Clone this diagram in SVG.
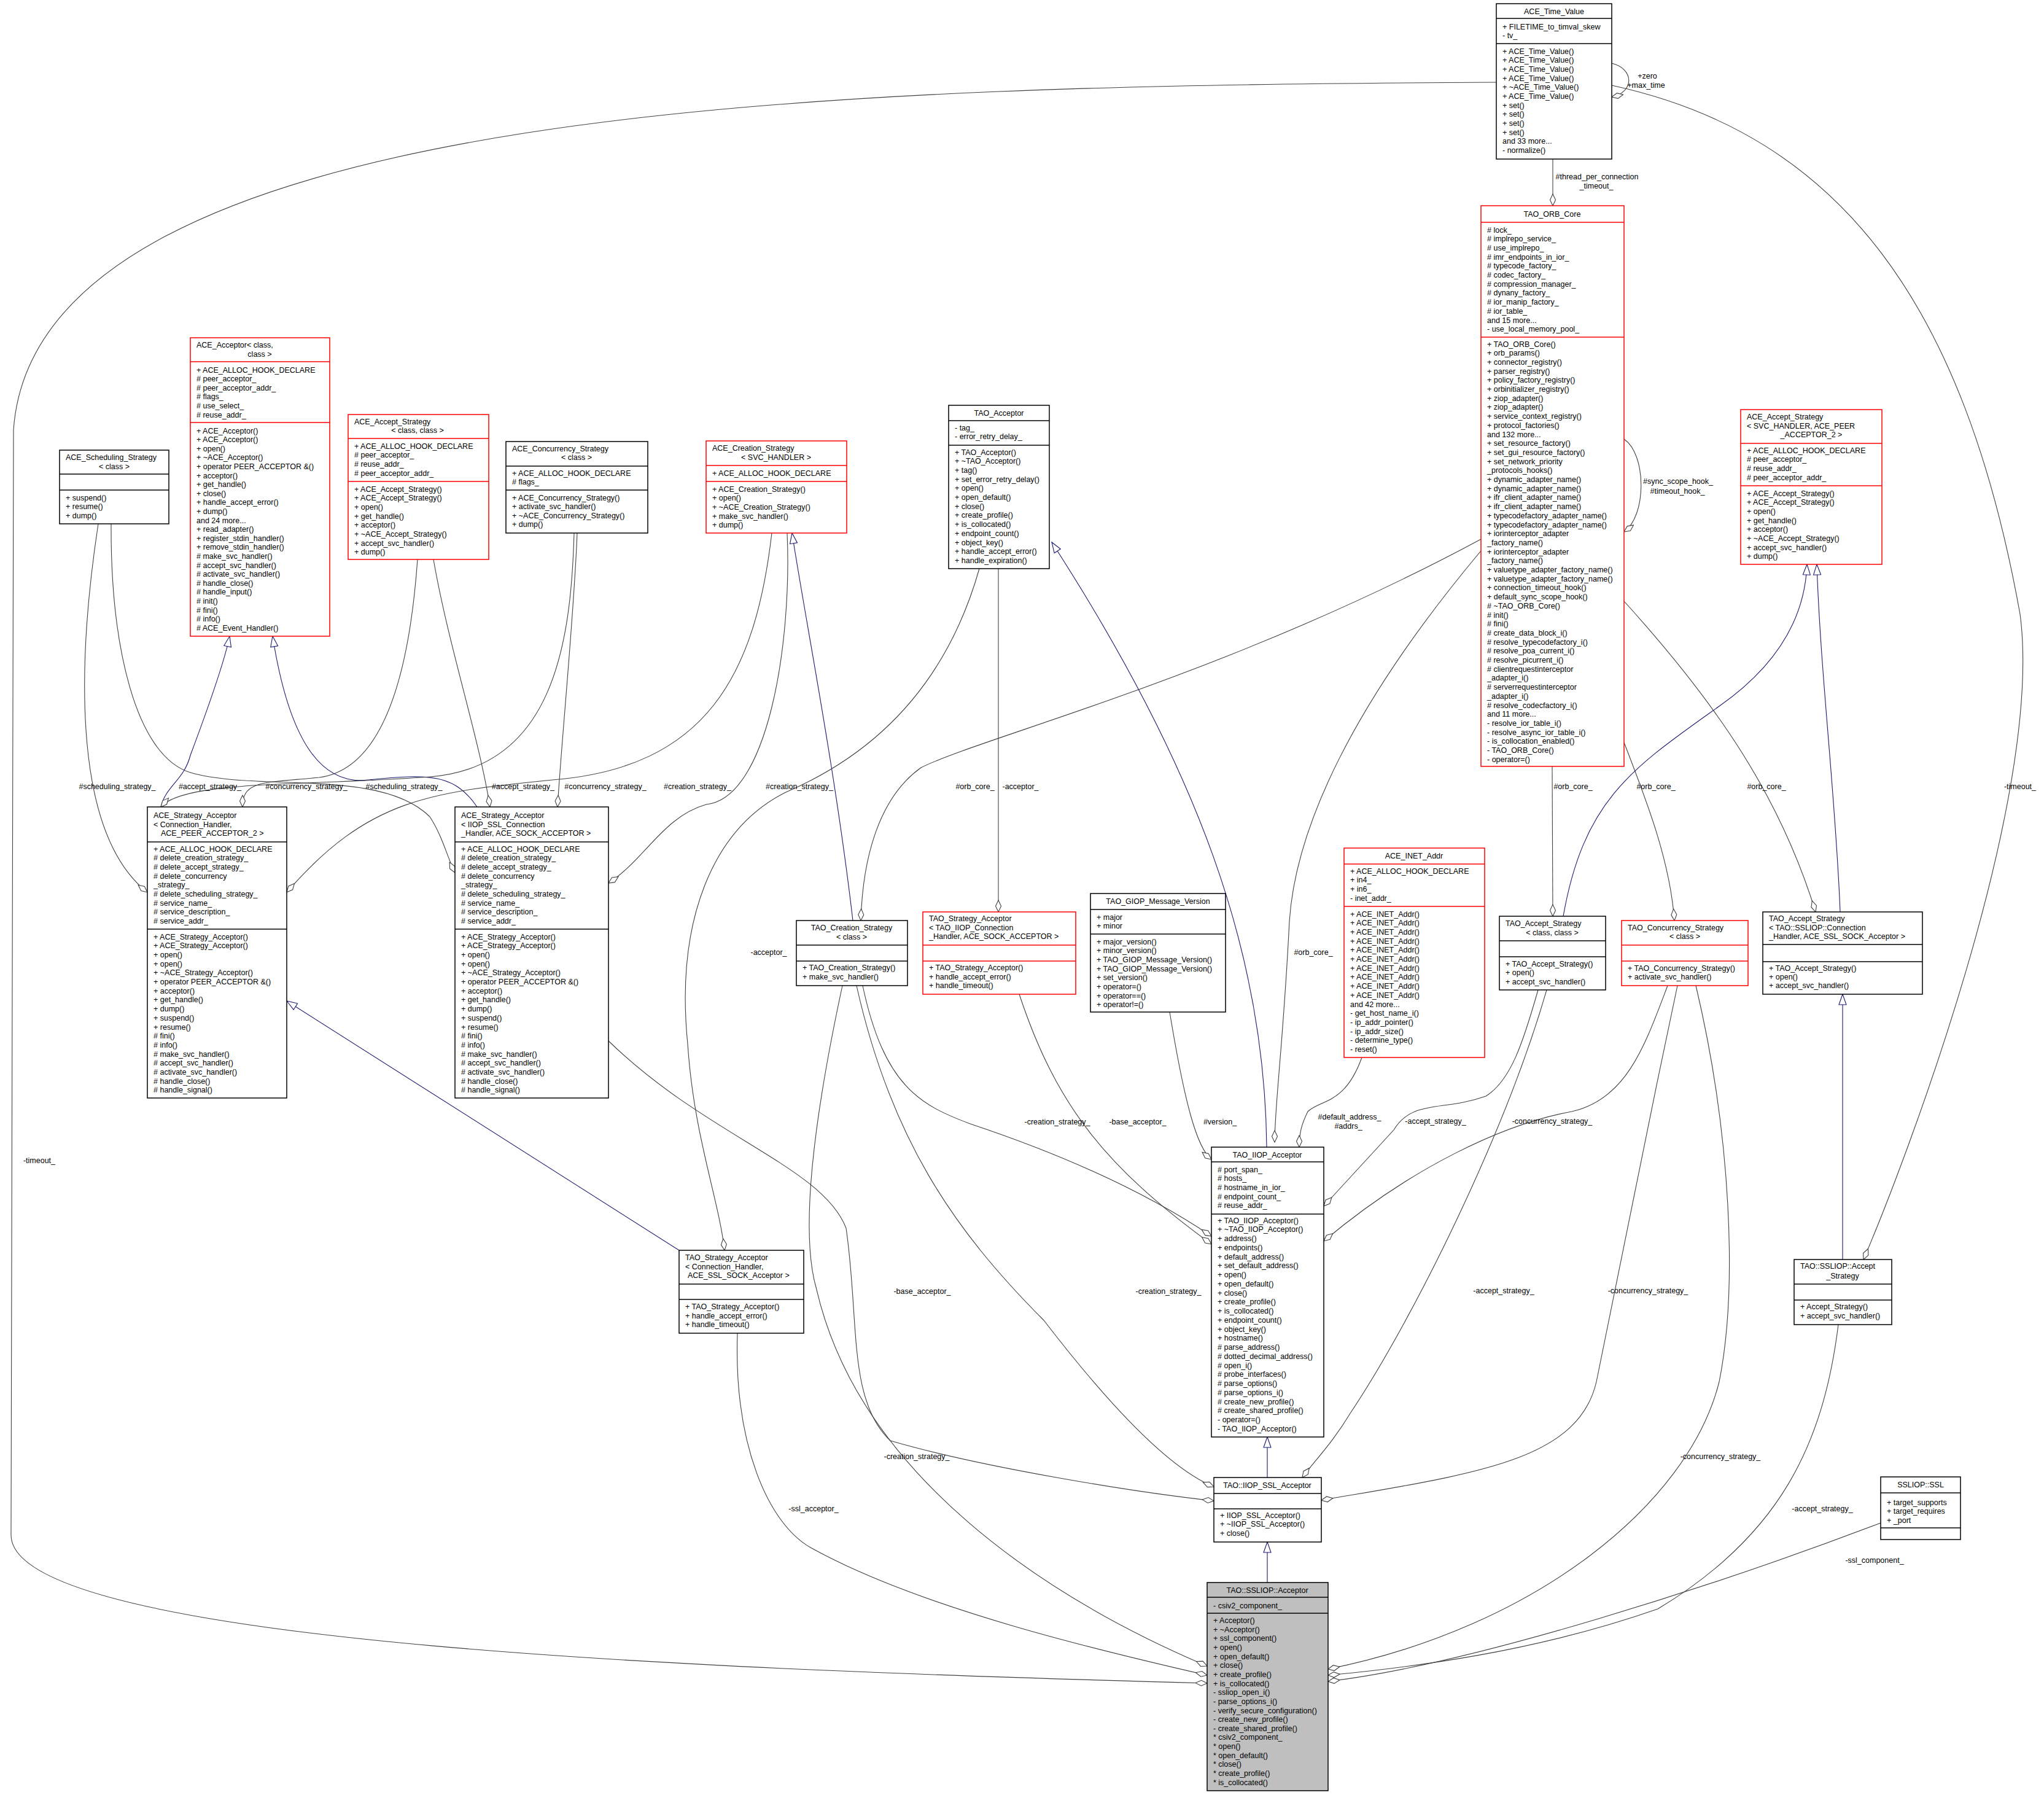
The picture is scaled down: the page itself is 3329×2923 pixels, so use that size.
<svg xmlns="http://www.w3.org/2000/svg" width="3329" height="2923" viewBox="0 0 3329 2923">
<style>
text{font-family:"Liberation Sans",Arial,sans-serif;font-size:12.5px;fill:#000}
.c{text-anchor:middle}
.b{fill:#fff;stroke:#000;stroke-width:1.5}
.r{fill:#fff;stroke:#ff0000;stroke-width:1.5}
.g{fill:#bfbfbf;stroke:#000;stroke-width:1.5}
.s{stroke:#000;stroke-width:1.5}
.sr{stroke:#ff0000;stroke-width:1.5}
.e{fill:none;stroke:#404040;stroke-width:1.1;marker-end:url(#dia)}
.i{fill:none;stroke:#191970;stroke-width:1.1;marker-end:url(#tri)}
</style>
<defs>
<marker id="dia" markerWidth="22" markerHeight="12" refX="20" refY="6" orient="auto" markerUnits="userSpaceOnUse"><path d="M1,6 L10.5,1.5 L20,6 L10.5,10.5 Z" fill="#fff" stroke="#404040" stroke-width="1.1"/></marker>
<marker id="tri" markerWidth="20" markerHeight="16" refX="18" refY="8" orient="auto" markerUnits="userSpaceOnUse"><path d="M1,2 L18,8 L1,14 Z" fill="#fff" stroke="#191970" stroke-width="1.1"/></marker>
</defs>
<rect width="3329" height="2923" fill="#fff"/>

<g id="connectors">
<path class="e" d="M2529,259 L2529,335"/>
<path class="e" d="M2625,103 C2662,112 2662,150 2625,158"/>
<path class="e" d="M2645,715 C2682,740 2682,840 2645,866"/>
<path class="e" d="M2437,134 C1400,140 60,160 22,700 L18,2500 C20,2680 1200,2720 1966,2741"/>
<path class="e" d="M2625,139 C3000,220 3200,500 3290,1000 C3330,1300 3100,1900 3035,2051"/>
<path class="e" d="M160,853 C130,1050 110,1350 240,1453"/>
<path class="e" d="M181,853 C180,1050 220,1230 310,1258 C420,1290 620,1250 700,1330 C720,1360 730,1400 741,1421"/>
<path class="i" d="M262,1314 C270,1280 300,1270 310,1230 C340,1150 365,1080 374,1036"/>
<path class="i" d="M777,1314 C740,1260 700,1260 600,1270 C520,1280 470,1200 444,1036"/>
<path class="e" d="M680,911 C670,1050 640,1250 520,1266 C430,1275 395,1270 395,1314"/>
<path class="e" d="M706,911 C730,1050 780,1200 798,1314"/>
<path class="e" d="M940,868 C935,1000 915,1200 908,1314"/>
<path class="e" d="M935,868 C930,1050 900,1250 700,1265 C500,1280 300,1270 262,1314"/>
<path class="e" d="M1257,868 C1230,1100 1150,1250 900,1270 C700,1290 600,1300 467,1453"/>
<path class="e" d="M1282,868 C1290,1050 1250,1300 1150,1310 C1080,1330 1050,1400 991,1438"/>
<path class="i" d="M1389,1499 C1360,1250 1310,1000 1290,868"/>
<path class="e" d="M2412,878 C2000,1100 1600,1200 1500,1250 C1430,1300 1405,1400 1402,1499"/>
<path class="e" d="M1626,926 L1626,1485"/>
<path class="e" d="M1595,926 C1540,1120 1420,1230 1280,1290 C1160,1350 1100,1500 1120,1700 C1130,1850 1170,1950 1180,2036"/>
<path class="i" d="M1106,2036 L467,1630"/>
<path class="i" d="M2063,1868 C2060,1550 1950,1250 1713,883"/>
<path class="e" d="M2412,897 C2200,1150 2110,1350 2100,1500 C2090,1700 2076,1800 2076,1860"/>
<path class="e" d="M2218,1722 C2190,1800 2150,1790 2130,1810 C2120,1830 2116,1845 2116,1868"/>
<path class="e" d="M1905,1648 C1930,1800 1950,1870 1973,1888"/>
<path class="e" d="M1405,1605 C1440,1770 1500,1800 1580,1830 C1700,1870 1850,1930 1973,2013"/>
<path class="e" d="M1660,1619 C1720,1800 1800,1900 1973,2026"/>
<path class="e" d="M2505,1612 C2480,1700 2460,1760 2420,1785 C2350,1810 2300,1790 2270,1840 L2156,1964"/>
<path class="e" d="M2716,1605 C2680,1700 2650,1790 2560,1810 C2450,1830 2300,1900 2156,2021"/>
<path class="i" d="M2064,2406 L2064,2340"/>
<path class="i" d="M2064,2577 L2064,2511"/>
<path class="e" d="M1395,1605 C1450,1850 1550,2000 1700,2150 C1800,2280 1900,2390 1977,2421"/>
<path class="e" d="M991,1695 C1150,1850 1340,1900 1378,2000 C1400,2150 1380,2280 1450,2346 C1600,2390 1850,2430 1977,2444"/>
<path class="e" d="M2519,1612 C2450,1850 2300,2150 2200,2300 C2170,2350 2140,2380 2121,2406"/>
<path class="e" d="M2732,1605 C2680,1850 2620,2150 2600,2250 C2570,2380 2400,2400 2152,2443"/>
<path class="e" d="M2762,1605 C2820,1850 2830,2100 2800,2250 C2750,2450 2500,2650 2163,2718"/>
<path class="e" d="M2994,2157 C2970,2350 2900,2500 2700,2620 C2500,2690 2300,2715 2163,2728"/>
<path class="e" d="M3063,2480 C2800,2580 2400,2710 2163,2738"/>
<path class="e" d="M1201,2171 C1195,2350 1250,2480 1320,2520 C1500,2620 1800,2690 1966,2728"/>
<path class="e" d="M1372,1605 C1330,1800 1300,2000 1330,2100 C1400,2400 1700,2600 1966,2713"/>
<path class="e" d="M2528,1248 L2529,1492"/>
<path class="e" d="M2645,1209 C2680,1300 2720,1400 2727,1499"/>
<path class="e" d="M2645,979 C2800,1150 2900,1300 2957,1485"/>
<path class="i" d="M2546,1492 C2580,1300 2660,1250 2800,1150 C2900,1080 2940,1000 2943,919"/>
<path class="i" d="M2997,1485 C2990,1300 2965,1100 2959,919"/>
<path class="i" d="M3001,2051 L3001,1619"/>
<g class="lbl">
<text class="c" x="2601" y="292">#thread_per_connection</text>
<text class="c" x="2600" y="307">_timeout_</text>
<text class="c" x="2683" y="128">+zero</text>
<text class="c" x="2681" y="143">+max_time</text>
<text class="c" x="2733" y="788">#sync_scope_hook_</text>
<text class="c" x="2732" y="804">#timeout_hook_</text>
<text class="c" x="64" y="1894">-timeout_</text>
<text class="c" x="3290" y="1285">-timeout_</text>
<text class="c" x="191" y="1285">#scheduling_strategy_</text>
<text class="c" x="342" y="1285">#accept_strategy_</text>
<text class="c" x="499" y="1285">#concurrency_strategy_</text>
<text class="c" x="658" y="1285">#scheduling_strategy_</text>
<text class="c" x="852" y="1285">#accept_strategy_</text>
<text class="c" x="986" y="1285">#concurrency_strategy_</text>
<text class="c" x="1136" y="1285">#creation_strategy_</text>
<text class="c" x="1302" y="1285">#creation_strategy_</text>
<text class="c" x="1588" y="1285">#orb_core_</text>
<text class="c" x="1662" y="1285">-acceptor_</text>
<text class="c" x="1252" y="1555">-acceptor_</text>
<text class="c" x="2139" y="1555">#orb_core_</text>
<text class="c" x="2562" y="1285">#orb_core_</text>
<text class="c" x="2697" y="1285">#orb_core_</text>
<text class="c" x="2877" y="1285">#orb_core_</text>
<text class="c" x="1722" y="1831">-creation_strategy_</text>
<text class="c" x="1853" y="1831">-base_acceptor_</text>
<text class="c" x="1987" y="1831">#version_</text>
<text class="c" x="2198" y="1823">#default_address_</text>
<text class="c" x="2196" y="1838">#addrs_</text>
<text class="c" x="2338" y="1830">-accept_strategy_</text>
<text class="c" x="2528" y="1830">-concurrency_strategy_</text>
<text class="c" x="1502" y="2107">-base_acceptor_</text>
<text class="c" x="1903" y="2107">-creation_strategy_</text>
<text class="c" x="2449" y="2106">-accept_strategy_</text>
<text class="c" x="2684" y="2106">-concurrency_strategy_</text>
<text class="c" x="1493" y="2376">-creation_strategy_</text>
<text class="c" x="1325" y="2461">-ssl_acceptor_</text>
<text class="c" x="2802" y="2376">-concurrency_strategy_</text>
<text class="c" x="2968" y="2461">-accept_strategy_</text>
<text class="c" x="3053" y="2545">-ssl_component_</text>
</g>
</g>

<g id="ACE_Time_Value">
<rect class="b" x="2437" y="6" width="188" height="253"/>
<line class="s" x1="2437" y1="30" x2="2625" y2="30"/><line class="s" x1="2437" y1="71" x2="2625" y2="71"/>
<text class="c" x="2531" y="23">ACE_Time_Value</text>
<text x="2447" y="47.5"><tspan x="2447">+ FILETIME_to_timval_skew</tspan><tspan x="2447" dy="14">- tv_</tspan></text>
<text x="2447" y="87.5"><tspan x="2447">+ ACE_Time_Value()</tspan><tspan x="2447" dy="14.7">+ ACE_Time_Value()</tspan><tspan x="2447" dy="14.7">+ ACE_Time_Value()</tspan><tspan x="2447" dy="14.7">+ ACE_Time_Value()</tspan><tspan x="2447" dy="14.7">+ ~ACE_Time_Value()</tspan><tspan x="2447" dy="14.7">+ ACE_Time_Value()</tspan><tspan x="2447" dy="14.7">+ set()</tspan><tspan x="2447" dy="14.7">+ set()</tspan><tspan x="2447" dy="14.7">+ set()</tspan><tspan x="2447" dy="14.7">+ set()</tspan><tspan x="2447" dy="14.7">and 33 more...</tspan><tspan x="2447" dy="14.7">- normalize()</tspan></text>
</g>

<g id="TAO_ORB_Core">
<rect class="r" x="2412" y="335" width="233" height="913"/>
<line class="sr" x1="2412" y1="362" x2="2645" y2="362"/><line class="sr" x1="2412" y1="549" x2="2645" y2="549"/>
<text class="c" x="2528" y="353">TAO_ORB_Core</text>
<text x="2422" y="378.5"><tspan x="2422"># lock_</tspan><tspan x="2422" dy="14.7"># implrepo_service_</tspan><tspan x="2422" dy="14.7"># use_implrepo_</tspan><tspan x="2422" dy="14.7"># imr_endpoints_in_ior_</tspan><tspan x="2422" dy="14.7"># typecode_factory_</tspan><tspan x="2422" dy="14.7"># codec_factory_</tspan><tspan x="2422" dy="14.7"># compression_manager_</tspan><tspan x="2422" dy="14.7"># dynany_factory_</tspan><tspan x="2422" dy="14.7"># ior_manip_factory_</tspan><tspan x="2422" dy="14.7"># ior_table_</tspan><tspan x="2422" dy="14.7">and 15 more...</tspan><tspan x="2422" dy="14.7">- use_local_memory_pool_</tspan></text>
<text x="2422" y="564.5"><tspan x="2422">+ TAO_ORB_Core()</tspan><tspan x="2422" dy="14.7">+ orb_params()</tspan><tspan x="2422" dy="14.7">+ connector_registry()</tspan><tspan x="2422" dy="14.7">+ parser_registry()</tspan><tspan x="2422" dy="14.7">+ policy_factory_registry()</tspan><tspan x="2422" dy="14.7">+ orbinitializer_registry()</tspan><tspan x="2422" dy="14.7">+ ziop_adapter()</tspan><tspan x="2422" dy="14.7">+ ziop_adapter()</tspan><tspan x="2422" dy="14.7">+ service_context_registry()</tspan><tspan x="2422" dy="14.7">+ protocol_factories()</tspan><tspan x="2422" dy="14.7">and 132 more...</tspan><tspan x="2422" dy="14.7">+ set_resource_factory()</tspan><tspan x="2422" dy="14.7">+ set_gui_resource_factory()</tspan><tspan x="2422" dy="14.7">+ set_network_priority</tspan><tspan x="2422" dy="14.7">_protocols_hooks()</tspan><tspan x="2422" dy="14.7">+ dynamic_adapter_name()</tspan><tspan x="2422" dy="14.7">+ dynamic_adapter_name()</tspan><tspan x="2422" dy="14.7">+ ifr_client_adapter_name()</tspan><tspan x="2422" dy="14.7">+ ifr_client_adapter_name()</tspan><tspan x="2422" dy="14.7">+ typecodefactory_adapter_name()</tspan><tspan x="2422" dy="14.7">+ typecodefactory_adapter_name()</tspan><tspan x="2422" dy="14.7">+ iorinterceptor_adapter</tspan><tspan x="2422" dy="14.7">_factory_name()</tspan><tspan x="2422" dy="14.7">+ iorinterceptor_adapter</tspan><tspan x="2422" dy="14.7">_factory_name()</tspan><tspan x="2422" dy="14.7">+ valuetype_adapter_factory_name()</tspan><tspan x="2422" dy="14.7">+ valuetype_adapter_factory_name()</tspan><tspan x="2422" dy="14.7">+ connection_timeout_hook()</tspan><tspan x="2422" dy="14.7">+ default_sync_scope_hook()</tspan><tspan x="2422" dy="14.7"># ~TAO_ORB_Core()</tspan><tspan x="2422" dy="14.7"># init()</tspan><tspan x="2422" dy="14.7"># fini()</tspan><tspan x="2422" dy="14.7"># create_data_block_i()</tspan><tspan x="2422" dy="14.7"># resolve_typecodefactory_i()</tspan><tspan x="2422" dy="14.7"># resolve_poa_current_i()</tspan><tspan x="2422" dy="14.7"># resolve_picurrent_i()</tspan><tspan x="2422" dy="14.7"># clientrequestinterceptor</tspan><tspan x="2422" dy="14.7">_adapter_i()</tspan><tspan x="2422" dy="14.7"># serverrequestinterceptor</tspan><tspan x="2422" dy="14.7">_adapter_i()</tspan><tspan x="2422" dy="14.7"># resolve_codecfactory_i()</tspan><tspan x="2422" dy="14.7">and 11 more...</tspan><tspan x="2422" dy="14.7">- resolve_ior_table_i()</tspan><tspan x="2422" dy="14.7">- resolve_async_ior_table_i()</tspan><tspan x="2422" dy="14.7">- is_collocation_enabled()</tspan><tspan x="2422" dy="14.7">- TAO_ORB_Core()</tspan><tspan x="2422" dy="14.7">- operator=()</tspan></text>
</g>

<g id="ACE_Acceptor">
<rect class="r" x="310" y="550" width="227" height="486"/>
<line class="sr" x1="310" y1="589" x2="537" y2="589"/><line class="sr" x1="310" y1="688" x2="537" y2="688"/>
<text x="320" y="566">ACE_Acceptor&lt; class,</text>
<text class="c" x="423" y="581">class &gt;</text>
<text x="320" y="606.5"><tspan x="320">+ ACE_ALLOC_HOOK_DECLARE</tspan><tspan x="320" dy="14.6"># peer_acceptor_</tspan><tspan x="320" dy="14.6"># peer_acceptor_addr_</tspan><tspan x="320" dy="14.6"># flags_</tspan><tspan x="320" dy="14.6"># use_select_</tspan><tspan x="320" dy="14.6"># reuse_addr_</tspan></text>
<text x="320" y="705.5"><tspan x="320">+ ACE_Acceptor()</tspan><tspan x="320" dy="14.6">+ ACE_Acceptor()</tspan><tspan x="320" dy="14.6">+ open()</tspan><tspan x="320" dy="14.6">+ ~ACE_Acceptor()</tspan><tspan x="320" dy="14.6">+ operator PEER_ACCEPTOR &amp;()</tspan><tspan x="320" dy="14.6">+ acceptor()</tspan><tspan x="320" dy="14.6">+ get_handle()</tspan><tspan x="320" dy="14.6">+ close()</tspan><tspan x="320" dy="14.6">+ handle_accept_error()</tspan><tspan x="320" dy="14.6">+ dump()</tspan><tspan x="320" dy="14.6">and 24 more...</tspan><tspan x="320" dy="14.6">+ read_adapter()</tspan><tspan x="320" dy="14.6">+ register_stdin_handler()</tspan><tspan x="320" dy="14.6">+ remove_stdin_handler()</tspan><tspan x="320" dy="14.6"># make_svc_handler()</tspan><tspan x="320" dy="14.6"># accept_svc_handler()</tspan><tspan x="320" dy="14.6"># activate_svc_handler()</tspan><tspan x="320" dy="14.6"># handle_close()</tspan><tspan x="320" dy="14.6"># handle_input()</tspan><tspan x="320" dy="14.6"># init()</tspan><tspan x="320" dy="14.6"># fini()</tspan><tspan x="320" dy="14.6"># info()</tspan><tspan x="320" dy="14.6"># ACE_Event_Handler()</tspan></text>
</g>

<g id="ACE_Scheduling_Strategy">
<rect class="b" x="97" y="733" width="178" height="120"/>
<line class="s" x1="97" y1="772" x2="275" y2="772"/><line class="s" x1="97" y1="798" x2="275" y2="798"/>
<text x="107" y="749">ACE_Scheduling_Strategy</text>
<text class="c" x="186" y="764">&lt; class &gt;</text>
<text x="107" y="814.5"><tspan x="107">+ suspend()</tspan><tspan x="107" dy="14.5">+ resume()</tspan><tspan x="107" dy="14.5">+ dump()</tspan></text>
</g>

<g id="ACE_Accept_Strategy_cc">
<rect class="r" x="567" y="675" width="229" height="236"/>
<line class="sr" x1="567" y1="714" x2="796" y2="714"/><line class="sr" x1="567" y1="784" x2="796" y2="784"/>
<text x="577" y="691">ACE_Accept_Strategy</text>
<text class="c" x="680" y="705">&lt; class, class &gt;</text>
<text x="577" y="730.5"><tspan x="577">+ ACE_ALLOC_HOOK_DECLARE</tspan><tspan x="577" dy="14.7"># peer_acceptor_</tspan><tspan x="577" dy="14.7"># reuse_addr_</tspan><tspan x="577" dy="14.7"># peer_acceptor_addr_</tspan></text>
<text x="577" y="800.5"><tspan x="577">+ ACE_Accept_Strategy()</tspan><tspan x="577" dy="14.7">+ ACE_Accept_Strategy()</tspan><tspan x="577" dy="14.7">+ open()</tspan><tspan x="577" dy="14.7">+ get_handle()</tspan><tspan x="577" dy="14.7">+ acceptor()</tspan><tspan x="577" dy="14.7">+ ~ACE_Accept_Strategy()</tspan><tspan x="577" dy="14.7">+ accept_svc_handler()</tspan><tspan x="577" dy="14.7">+ dump()</tspan></text>
</g>

<g id="ACE_Concurrency_Strategy">
<rect class="b" x="824" y="719" width="231" height="149"/>
<line class="s" x1="824" y1="759" x2="1055" y2="759"/><line class="s" x1="824" y1="798" x2="1055" y2="798"/>
<text x="834" y="735">ACE_Concurrency_Strategy</text>
<text class="c" x="939" y="749">&lt; class &gt;</text>
<text x="834" y="774.5"><tspan x="834">+ ACE_ALLOC_HOOK_DECLARE</tspan><tspan x="834" dy="14.5"># flags_</tspan></text>
<text x="834" y="814.5"><tspan x="834">+ ACE_Concurrency_Strategy()</tspan><tspan x="834" dy="14.6">+ activate_svc_handler()</tspan><tspan x="834" dy="14.6">+ ~ACE_Concurrency_Strategy()</tspan><tspan x="834" dy="14.6">+ dump()</tspan></text>
</g>

<g id="ACE_Creation_Strategy">
<rect class="r" x="1150" y="718" width="229" height="150"/>
<line class="sr" x1="1150" y1="758" x2="1379" y2="758"/><line class="sr" x1="1150" y1="784" x2="1379" y2="784"/>
<text x="1160" y="734">ACE_Creation_Strategy</text>
<text class="c" x="1264" y="749">&lt; SVC_HANDLER &gt;</text>
<text x="1160" y="774.5">+ ACE_ALLOC_HOOK_DECLARE</text>
<text x="1160" y="800.5"><tspan x="1160">+ ACE_Creation_Strategy()</tspan><tspan x="1160" dy="14.7">+ open()</tspan><tspan x="1160" dy="14.7">+ ~ACE_Creation_Strategy()</tspan><tspan x="1160" dy="14.7">+ make_svc_handler()</tspan><tspan x="1160" dy="14.7">+ dump()</tspan></text>
</g>

<g id="TAO_Acceptor">
<rect class="b" x="1545" y="660" width="164" height="266"/>
<line class="s" x1="1545" y1="685" x2="1709" y2="685"/><line class="s" x1="1545" y1="725" x2="1709" y2="725"/>
<text class="c" x="1627" y="677">TAO_Acceptor</text>
<text x="1555" y="700.5"><tspan x="1555">- tag_</tspan><tspan x="1555" dy="14.5">- error_retry_delay_</tspan></text>
<text x="1555" y="740.5"><tspan x="1555">+ TAO_Acceptor()</tspan><tspan x="1555" dy="14.7">+ ~TAO_Acceptor()</tspan><tspan x="1555" dy="14.7">+ tag()</tspan><tspan x="1555" dy="14.7">+ set_error_retry_delay()</tspan><tspan x="1555" dy="14.7">+ open()</tspan><tspan x="1555" dy="14.7">+ open_default()</tspan><tspan x="1555" dy="14.7">+ close()</tspan><tspan x="1555" dy="14.7">+ create_profile()</tspan><tspan x="1555" dy="14.7">+ is_collocated()</tspan><tspan x="1555" dy="14.7">+ endpoint_count()</tspan><tspan x="1555" dy="14.7">+ object_key()</tspan><tspan x="1555" dy="14.7">+ handle_accept_error()</tspan><tspan x="1555" dy="14.7">+ handle_expiration()</tspan></text>
</g>

<g id="ACE_Strategy_Acceptor_CH">
<rect class="b" x="240" y="1314" width="227" height="474"/>
<line class="s" x1="240" y1="1371" x2="467" y2="1371"/><line class="s" x1="240" y1="1513" x2="467" y2="1513"/>
<text x="250" y="1332"><tspan x="250">ACE_Strategy_Acceptor</tspan><tspan x="250" dy="14.5">&lt; Connection_Handler,</tspan><tspan x="262" dy="14.5">ACE_PEER_ACCEPTOR_2 &gt;</tspan></text>
<text x="250" y="1386.5"><tspan x="250">+ ACE_ALLOC_HOOK_DECLARE</tspan><tspan x="250" dy="14.7"># delete_creation_strategy_</tspan><tspan x="250" dy="14.7"># delete_accept_strategy_</tspan><tspan x="250" dy="14.7"># delete_concurrency</tspan><tspan x="250" dy="14.7">_strategy_</tspan><tspan x="250" dy="14.7"># delete_scheduling_strategy_</tspan><tspan x="250" dy="14.7"># service_name_</tspan><tspan x="250" dy="14.7"># service_description_</tspan><tspan x="250" dy="14.7"># service_addr_</tspan></text>
<text x="250" y="1529.5"><tspan x="250">+ ACE_Strategy_Acceptor()</tspan><tspan x="250" dy="14.7">+ ACE_Strategy_Acceptor()</tspan><tspan x="250" dy="14.7">+ open()</tspan><tspan x="250" dy="14.7">+ open()</tspan><tspan x="250" dy="14.7">+ ~ACE_Strategy_Acceptor()</tspan><tspan x="250" dy="14.7">+ operator PEER_ACCEPTOR &amp;()</tspan><tspan x="250" dy="14.7">+ acceptor()</tspan><tspan x="250" dy="14.7">+ get_handle()</tspan><tspan x="250" dy="14.7">+ dump()</tspan><tspan x="250" dy="14.7">+ suspend()</tspan><tspan x="250" dy="14.7">+ resume()</tspan><tspan x="250" dy="14.7"># fini()</tspan><tspan x="250" dy="14.7"># info()</tspan><tspan x="250" dy="14.7"># make_svc_handler()</tspan><tspan x="250" dy="14.7"># accept_svc_handler()</tspan><tspan x="250" dy="14.7"># activate_svc_handler()</tspan><tspan x="250" dy="14.7"># handle_close()</tspan><tspan x="250" dy="14.7"># handle_signal()</tspan></text>
</g>

<g id="ACE_Strategy_Acceptor_IIOP_SSL">
<rect class="b" x="741" y="1314" width="250" height="474"/>
<line class="s" x1="741" y1="1371" x2="991" y2="1371"/><line class="s" x1="741" y1="1513" x2="991" y2="1513"/>
<text x="751" y="1332"><tspan x="751">ACE_Strategy_Acceptor</tspan><tspan x="751" dy="14.5">&lt; IIOP_SSL_Connection</tspan><tspan x="751" dy="14.5">_Handler, ACE_SOCK_ACCEPTOR &gt;</tspan></text>
<text x="751" y="1386.5"><tspan x="751">+ ACE_ALLOC_HOOK_DECLARE</tspan><tspan x="751" dy="14.7"># delete_creation_strategy_</tspan><tspan x="751" dy="14.7"># delete_accept_strategy_</tspan><tspan x="751" dy="14.7"># delete_concurrency</tspan><tspan x="751" dy="14.7">_strategy_</tspan><tspan x="751" dy="14.7"># delete_scheduling_strategy_</tspan><tspan x="751" dy="14.7"># service_name_</tspan><tspan x="751" dy="14.7"># service_description_</tspan><tspan x="751" dy="14.7"># service_addr_</tspan></text>
<text x="751" y="1529.5"><tspan x="751">+ ACE_Strategy_Acceptor()</tspan><tspan x="751" dy="14.7">+ ACE_Strategy_Acceptor()</tspan><tspan x="751" dy="14.7">+ open()</tspan><tspan x="751" dy="14.7">+ open()</tspan><tspan x="751" dy="14.7">+ ~ACE_Strategy_Acceptor()</tspan><tspan x="751" dy="14.7">+ operator PEER_ACCEPTOR &amp;()</tspan><tspan x="751" dy="14.7">+ acceptor()</tspan><tspan x="751" dy="14.7">+ get_handle()</tspan><tspan x="751" dy="14.7">+ dump()</tspan><tspan x="751" dy="14.7">+ suspend()</tspan><tspan x="751" dy="14.7">+ resume()</tspan><tspan x="751" dy="14.7"># fini()</tspan><tspan x="751" dy="14.7"># info()</tspan><tspan x="751" dy="14.7"># make_svc_handler()</tspan><tspan x="751" dy="14.7"># accept_svc_handler()</tspan><tspan x="751" dy="14.7"># activate_svc_handler()</tspan><tspan x="751" dy="14.7"># handle_close()</tspan><tspan x="751" dy="14.7"># handle_signal()</tspan></text>
</g>

<g id="TAO_Creation_Strategy">
<rect class="b" x="1297" y="1499" width="181" height="106"/>
<line class="s" x1="1297" y1="1539" x2="1478" y2="1539"/><line class="s" x1="1297" y1="1565" x2="1478" y2="1565"/>
<text class="c" x="1387" y="1515">TAO_Creation_Strategy</text>
<text class="c" x="1387" y="1530">&lt; class &gt;</text>
<text x="1307" y="1580"><tspan x="1307">+ TAO_Creation_Strategy()</tspan><tspan x="1307" dy="14.7">+ make_svc_handler()</tspan></text>
</g>

<g id="TAO_Strategy_Acceptor_IIOP">
<rect class="r" x="1503" y="1485" width="249" height="134"/>
<line class="sr" x1="1503" y1="1539" x2="1752" y2="1539"/><line class="sr" x1="1503" y1="1565" x2="1752" y2="1565"/>
<text x="1513" y="1500"><tspan x="1513">TAO_Strategy_Acceptor</tspan><tspan x="1513" dy="14.5">&lt; TAO_IIOP_Connection</tspan><tspan x="1513" dy="14.5">_Handler, ACE_SOCK_ACCEPTOR &gt;</tspan></text>
<text x="1513" y="1580"><tspan x="1513">+ TAO_Strategy_Acceptor()</tspan><tspan x="1513" dy="14.7">+ handle_accept_error()</tspan><tspan x="1513" dy="14.7">+ handle_timeout()</tspan></text>
</g>

<g id="TAO_GIOP_Message_Version">
<rect class="b" x="1776" y="1455" width="220" height="193"/>
<line class="s" x1="1776" y1="1481" x2="1996" y2="1481"/><line class="s" x1="1776" y1="1521" x2="1996" y2="1521"/>
<text class="c" x="1886" y="1472">TAO_GIOP_Message_Version</text>
<text x="1786" y="1497.5"><tspan x="1786">+ major</tspan><tspan x="1786" dy="14">+ minor</tspan></text>
<text x="1786" y="1537.5"><tspan x="1786">+ major_version()</tspan><tspan x="1786" dy="14.7">+ minor_version()</tspan><tspan x="1786" dy="14.7">+ TAO_GIOP_Message_Version()</tspan><tspan x="1786" dy="14.7">+ TAO_GIOP_Message_Version()</tspan><tspan x="1786" dy="14.7">+ set_version()</tspan><tspan x="1786" dy="14.7">+ operator=()</tspan><tspan x="1786" dy="14.7">+ operator==()</tspan><tspan x="1786" dy="14.7">+ operator!=()</tspan></text>
</g>

<g id="ACE_INET_Addr">
<rect class="r" x="2189" y="1381" width="229" height="341"/>
<line class="sr" x1="2189" y1="1407" x2="2418" y2="1407"/><line class="sr" x1="2189" y1="1476" x2="2418" y2="1476"/>
<text class="c" x="2303" y="1398">ACE_INET_Addr</text>
<text x="2199" y="1422.5"><tspan x="2199">+ ACE_ALLOC_HOOK_DECLARE</tspan><tspan x="2199" dy="14.7">+ in4_</tspan><tspan x="2199" dy="14.7">+ in6_</tspan><tspan x="2199" dy="14.7">- inet_addr_</tspan></text>
<text x="2199" y="1492.5"><tspan x="2199">+ ACE_INET_Addr()</tspan><tspan x="2199" dy="14.7">+ ACE_INET_Addr()</tspan><tspan x="2199" dy="14.7">+ ACE_INET_Addr()</tspan><tspan x="2199" dy="14.7">+ ACE_INET_Addr()</tspan><tspan x="2199" dy="14.7">+ ACE_INET_Addr()</tspan><tspan x="2199" dy="14.7">+ ACE_INET_Addr()</tspan><tspan x="2199" dy="14.7">+ ACE_INET_Addr()</tspan><tspan x="2199" dy="14.7">+ ACE_INET_Addr()</tspan><tspan x="2199" dy="14.7">+ ACE_INET_Addr()</tspan><tspan x="2199" dy="14.7">+ ACE_INET_Addr()</tspan><tspan x="2199" dy="14.7">and 42 more...</tspan><tspan x="2199" dy="14.7">- get_host_name_i()</tspan><tspan x="2199" dy="14.7">- ip_addr_pointer()</tspan><tspan x="2199" dy="14.7">- ip_addr_size()</tspan><tspan x="2199" dy="14.7">- determine_type()</tspan><tspan x="2199" dy="14.7">- reset()</tspan></text>
</g>

<g id="TAO_Accept_Strategy_cc">
<rect class="b" x="2442" y="1492" width="173" height="120"/>
<line class="s" x1="2442" y1="1532" x2="2615" y2="1532"/><line class="s" x1="2442" y1="1558" x2="2615" y2="1558"/>
<text x="2452" y="1508">TAO_Accept_Strategy</text>
<text class="c" x="2528" y="1523">&lt; class, class &gt;</text>
<text x="2452" y="1573.5"><tspan x="2452">+ TAO_Accept_Strategy()</tspan><tspan x="2452" dy="14.7">+ open()</tspan><tspan x="2452" dy="14.7">+ accept_svc_handler()</tspan></text>
</g>

<g id="TAO_Concurrency_Strategy">
<rect class="r" x="2641" y="1499" width="206" height="106"/>
<line class="sr" x1="2641" y1="1539" x2="2847" y2="1539"/><line class="sr" x1="2641" y1="1565" x2="2847" y2="1565"/>
<text x="2651" y="1515">TAO_Concurrency_Strategy</text>
<text class="c" x="2744" y="1529">&lt; class &gt;</text>
<text x="2651" y="1581"><tspan x="2651">+ TAO_Concurrency_Strategy()</tspan><tspan x="2651" dy="14">+ activate_svc_handler()</tspan></text>
</g>

<g id="TAO_Accept_Strategy_SSLIOP">
<rect class="b" x="2871" y="1485" width="260" height="134"/>
<line class="s" x1="2871" y1="1538" x2="3131" y2="1538"/><line class="s" x1="2871" y1="1566" x2="3131" y2="1566"/>
<text x="2881" y="1500"><tspan x="2881">TAO_Accept_Strategy</tspan><tspan x="2881" dy="14.5">&lt; TAO::SSLIOP::Connection</tspan><tspan x="2881" dy="14.5">_Handler, ACE_SSL_SOCK_Acceptor &gt;</tspan></text>
<text x="2881" y="1581"><tspan x="2881">+ TAO_Accept_Strategy()</tspan><tspan x="2881" dy="14.2">+ open()</tspan><tspan x="2881" dy="14.2">+ accept_svc_handler()</tspan></text>
</g>

<g id="SSLIOP_Accept_Strategy">
<rect class="b" x="2922" y="2051" width="159" height="106"/>
<line class="s" x1="2922" y1="2091" x2="3081" y2="2091"/><line class="s" x1="2922" y1="2117" x2="3081" y2="2117"/>
<text x="2932" y="2066">TAO::SSLIOP::Accept</text>
<text class="c" x="3001" y="2082">_Strategy</text>
<text x="2932" y="2132"><tspan x="2932">+ Accept_Strategy()</tspan><tspan x="2932" dy="14.7">+ accept_svc_handler()</tspan></text>
</g>

<g id="TAO_IIOP_Acceptor">
<rect class="b" x="1973" y="1868" width="183" height="472"/>
<line class="s" x1="1973" y1="1892" x2="2156" y2="1892"/><line class="s" x1="1973" y1="1977" x2="2156" y2="1977"/>
<text class="c" x="2064" y="1884.5">TAO_IIOP_Acceptor</text>
<text x="1983" y="1908.5"><tspan x="1983"># port_span_</tspan><tspan x="1983" dy="14.7"># hosts_</tspan><tspan x="1983" dy="14.7"># hostname_in_ior_</tspan><tspan x="1983" dy="14.7"># endpoint_count_</tspan><tspan x="1983" dy="14.7"># reuse_addr_</tspan></text>
<text x="1983" y="1991.5"><tspan x="1983">+ TAO_IIOP_Acceptor()</tspan><tspan x="1983" dy="14.75">+ ~TAO_IIOP_Acceptor()</tspan><tspan x="1983" dy="14.75">+ address()</tspan><tspan x="1983" dy="14.75">+ endpoints()</tspan><tspan x="1983" dy="14.75">+ default_address()</tspan><tspan x="1983" dy="14.75">+ set_default_address()</tspan><tspan x="1983" dy="14.75">+ open()</tspan><tspan x="1983" dy="14.75">+ open_default()</tspan><tspan x="1983" dy="14.75">+ close()</tspan><tspan x="1983" dy="14.75">+ create_profile()</tspan><tspan x="1983" dy="14.75">+ is_collocated()</tspan><tspan x="1983" dy="14.75">+ endpoint_count()</tspan><tspan x="1983" dy="14.75">+ object_key()</tspan><tspan x="1983" dy="14.75">+ hostname()</tspan><tspan x="1983" dy="14.75"># parse_address()</tspan><tspan x="1983" dy="14.75"># dotted_decimal_address()</tspan><tspan x="1983" dy="14.75"># open_i()</tspan><tspan x="1983" dy="14.75"># probe_interfaces()</tspan><tspan x="1983" dy="14.75"># parse_options()</tspan><tspan x="1983" dy="14.75"># parse_options_i()</tspan><tspan x="1983" dy="14.75"># create_new_profile()</tspan><tspan x="1983" dy="14.75"># create_shared_profile()</tspan><tspan x="1983" dy="14.75">- operator=()</tspan><tspan x="1983" dy="14.75">- TAO_IIOP_Acceptor()</tspan></text>
</g>

<g id="IIOP_SSL_Acceptor">
<rect class="b" x="1977" y="2406" width="175" height="105"/>
<line class="s" x1="1977" y1="2432" x2="2152" y2="2432"/><line class="s" x1="1977" y1="2457" x2="2152" y2="2457"/>
<text class="c" x="2064" y="2423">TAO::IIOP_SSL_Acceptor</text>
<text x="1987" y="2471.5"><tspan x="1987">+ IIOP_SSL_Acceptor()</tspan><tspan x="1987" dy="14.7">+ ~IIOP_SSL_Acceptor()</tspan><tspan x="1987" dy="14.7">+ close()</tspan></text>
</g>

<g id="SSLIOP_Acceptor">
<rect class="g" x="1966" y="2577" width="197" height="339"/>
<line class="s" x1="1966" y1="2601" x2="2163" y2="2601"/><line class="s" x1="1966" y1="2627" x2="2163" y2="2627"/>
<text class="c" x="2064" y="2593.5">TAO::SSLIOP::Acceptor</text>
<text x="1976" y="2618.5">- csiv2_component_</text>
<text x="1976" y="2643"><tspan x="1976">+ Acceptor()</tspan><tspan x="1976" dy="14.65">+ ~Acceptor()</tspan><tspan x="1976" dy="14.65">+ ssl_component()</tspan><tspan x="1976" dy="14.65">+ open()</tspan><tspan x="1976" dy="14.65">+ open_default()</tspan><tspan x="1976" dy="14.65">+ close()</tspan><tspan x="1976" dy="14.65">+ create_profile()</tspan><tspan x="1976" dy="14.65">+ is_collocated()</tspan><tspan x="1976" dy="14.65">- ssliop_open_i()</tspan><tspan x="1976" dy="14.65">- parse_options_i()</tspan><tspan x="1976" dy="14.65">- verify_secure_configuration()</tspan><tspan x="1976" dy="14.65">- create_new_profile()</tspan><tspan x="1976" dy="14.65">- create_shared_profile()</tspan><tspan x="1976" dy="14.65">* csiv2_component_</tspan><tspan x="1976" dy="14.65">* open()</tspan><tspan x="1976" dy="14.65">* open_default()</tspan><tspan x="1976" dy="14.65">* close()</tspan><tspan x="1976" dy="14.65">* create_profile()</tspan><tspan x="1976" dy="14.65">* is_collocated()</tspan></text>
</g>

<g id="TAO_Strategy_Acceptor_SSL">
<rect class="b" x="1106" y="2036" width="203" height="135"/>
<line class="s" x1="1106" y1="2091" x2="1309" y2="2091"/><line class="s" x1="1106" y1="2116" x2="1309" y2="2116"/>
<text x="1116" y="2052"><tspan x="1116">TAO_Strategy_Acceptor</tspan><tspan x="1116" dy="14.5">&lt; Connection_Handler,</tspan><tspan x="1120" dy="14.5">ACE_SSL_SOCK_Acceptor &gt;</tspan></text>
<text x="1116" y="2132"><tspan x="1116">+ TAO_Strategy_Acceptor()</tspan><tspan x="1116" dy="14.5">+ handle_accept_error()</tspan><tspan x="1116" dy="14.5">+ handle_timeout()</tspan></text>
</g>

<g id="SSLIOP_SSL">
<rect class="b" x="3063" y="2405" width="130" height="102"/>
<line class="s" x1="3063" y1="2431" x2="3193" y2="2431"/><line class="s" x1="3063" y1="2488" x2="3193" y2="2488"/>
<text class="c" x="3128" y="2422">SSLIOP::SSL</text>
<text x="3073" y="2450.5"><tspan x="3073">+ target_supports</tspan><tspan x="3073" dy="14.5">+ target_requires</tspan><tspan x="3073" dy="14.5">+ _port</tspan></text>
</g>

<g id="ACE_Accept_Strategy_SVC">
<rect class="r" x="2835" y="667" width="230" height="252"/>
<line class="sr" x1="2835" y1="722" x2="3065" y2="722"/><line class="sr" x1="2835" y1="791" x2="3065" y2="791"/>
<text x="2845" y="683"><tspan x="2845">ACE_Accept_Strategy</tspan><tspan x="2845" dy="14.5">&lt; SVC_HANDLER, ACE_PEER</tspan></text>
<text class="c" x="2950" y="712">_ACCEPTOR_2 &gt;</text>
<text x="2845" y="737.5"><tspan x="2845">+ ACE_ALLOC_HOOK_DECLARE</tspan><tspan x="2845" dy="14.7"># peer_acceptor_</tspan><tspan x="2845" dy="14.7"># reuse_addr_</tspan><tspan x="2845" dy="14.7"># peer_acceptor_addr_</tspan></text>
<text x="2845" y="807.5"><tspan x="2845">+ ACE_Accept_Strategy()</tspan><tspan x="2845" dy="14.7">+ ACE_Accept_Strategy()</tspan><tspan x="2845" dy="14.7">+ open()</tspan><tspan x="2845" dy="14.7">+ get_handle()</tspan><tspan x="2845" dy="14.7">+ acceptor()</tspan><tspan x="2845" dy="14.7">+ ~ACE_Accept_Strategy()</tspan><tspan x="2845" dy="14.7">+ accept_svc_handler()</tspan><tspan x="2845" dy="14.7">+ dump()</tspan></text>
</g>
</svg>
